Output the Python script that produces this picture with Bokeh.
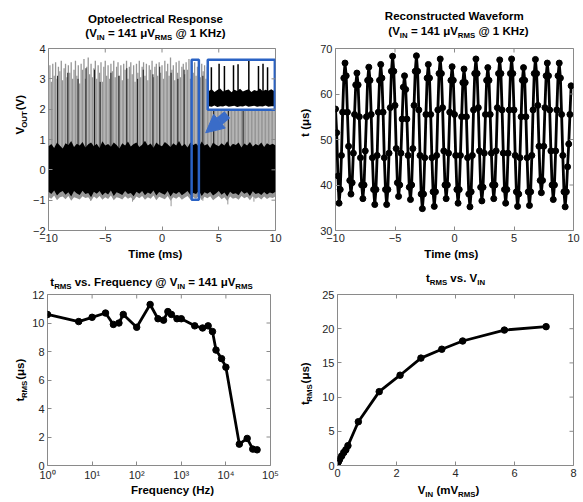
import math
from bokeh.plotting import figure
from bokeh.layouts import column, row
from bokeh.models import Range1d, FixedTicker, Arrow, NormalHead
from bokeh.core.properties import value
from bokeh.embed import file_html
from bokeh.resources import INLINE

# ------------------------------------------------------------------ data
# Reconstructed waveform (t in us), sampled every 0.1 ms from -10 ms
wave_vals = [
    56.7, 51.5, 42, 36,
    39, 46.5, 56, 63.5, 66.8, 64, 56, 48.5, 41, 38,
    40.5, 47, 55.5, 62, 64.6, 62, 55, 46, 40, 37,
    40, 47.5, 55, 63, 65.9, 63, 55.5, 46, 39, 35.7,
    39, 46.5, 56, 63, 66.5, 63.5, 56, 46, 39, 35.7,
    39, 47, 57, 65, 68.3, 65, 57.5, 48, 40.5, 37.5,
    40, 47, 54.5, 61.5, 64, 61, 54.5, 46.5, 39.5, 36.8,
    40, 48, 57.5, 65, 68.4, 65, 56.5, 46.5, 38, 34.8,
    38, 46, 55.5, 63.5, 66.5, 63.5, 55.5, 46, 38.5, 35.3,
    38.5, 46.5, 56.5, 64.5, 67.7, 64.5, 57, 47.5, 40, 37,
    40, 47, 56, 63, 66, 63, 55.5, 46.5, 39, 36,
    39, 46.5, 55, 62.5, 65.5, 62.5, 55, 46, 38, 35.2,
    38.5, 46.5, 56.5, 64.5, 67.7, 64.5, 57, 47.5, 39.5, 36.5,
    39.5, 47, 55.5, 63, 65.8, 63, 55.5, 47, 40, 37,
    40, 47.5, 57, 64.5, 67.5, 64.5, 56.5, 47, 39, 36,
    39, 47, 56.5, 64.5, 67.7, 64.5, 56.5, 46.5, 38.5, 35.3,
    38, 46, 55, 63, 65.8, 63, 55, 46, 38.5, 35.5,
    38.5, 46.5, 56.5, 64.5, 67.6, 64.5, 57.5, 48.5, 41, 38.3,
    41, 48.5, 57, 64, 66.8, 64, 56.5, 47.5, 40, 36.8,
    40, 47.5, 56.5, 64, 66.8, 63.5, 55.5, 46.5, 38.5, 35.2,
    38.5, 44, 49, 55.5, 61.8,
]
WAVE_T0, WAVE_DT = -10.0, 0.1
wave_t = [round(WAVE_T0 + WAVE_DT * i, 3) for i in range(len(wave_vals))]

# Optoelectrical response: spike tops (V), one every 0.125 ms from -10 ms
spike_top = [
    3.2, 3.45, 2.9, 3.5, 3.1, 3.55, 3.0, 3.4, 3.25, 3.6, 2.95, 3.35, 3.5, 3.05, 3.45, 3.2,
    3.55, 3.0, 3.3, 3.6, 3.1, 3.45, 2.85, 3.5, 3.3, 3.65, 3.0, 3.4, 3.7, 3.15, 3.5, 3.05,
    3.35, 3.6, 3.0, 3.45, 3.2, 3.55, 2.9, 3.4, 3.6, 3.1, 3.45, 3.0, 3.5, 3.25, 3.6, 3.05,
    3.4, 3.55, 3.1, 3.45, 2.95, 3.5, 3.3, 3.6, 3.0, 3.4, 3.55, 3.15, 3.45, 2.9, 3.5, 3.2,
    3.6, 3.05, 3.4, 3.55, 3.1, 3.5, 2.95, 3.45, 3.3, 3.6, 3.05, 3.4, 3.5, 3.1, 3.55, 3.2,
    3.45, 3.0, 3.6, 3.25, 3.5, 3.1, 3.7, 3.3, 3.45, 2.95, 3.55, 3.2, 3.6, 3.05, 3.4, 3.5,
    3.15, 3.55, 3.3, 3.65, 3.0, 3.45, 3.2, 3.55, 3.1, 3.4, 3.6, 3.05, 3.5, 3.25, 3.45, 3.0,
    3.4, 3.2, 3.5, 3.1, 3.45, 3.3, 3.0, 3.5, 3.2, 3.4, 3.1, 3.45, 3.3, 3.05, 3.5, 3.2,
    3.35, 3.1, 3.5, 3.25, 3.4, 3.0, 3.45, 3.2, 3.5, 3.1, 3.35, 3.45, 3.05, 3.3, 3.5, 3.2,
    3.4, 3.05, 3.5, 3.25, 3.35, 3.1, 3.45, 3.2, 3.5, 3.0, 3.4, 3.3, 3.45, 3.15, 3.35, 3.25, 3.3,
]
SPIKE_T0, SPIKE_DT = -10.0, 0.125
spike_t = [round(SPIKE_T0 + SPIKE_DT * i, 4) for i in range(len(spike_top))]

black_spike_t = [-9.2, -8.3, -7.4, -6.7, -5.95, -5.45, -4.5, -3.8, -3.1, -2.15,
                 -1.65, -0.8, -0.2, 0.8, 1.4, 1.95, 3.6, 4.55, 5.85, 7.15]
black_spike_top = [3.1, 3.2, 3.0, 3.35, 3.3, 2.9, 3.2, 3.1, 3.35, 3.0,
                   3.3, 3.15, 3.4, 3.2, 3.0, 3.3, 3.1, 3.0, 3.2, 3.1]

# noise band envelope, every 0.25 ms from -10 ms
band_upper = [
    0.78, 0.85, 0.72, 0.9, 0.8, 0.7, 0.88, 0.82, 0.95, 0.75,
    0.86, 0.8, 0.92, 0.74, 0.84, 0.9, 0.78, 0.86, 0.72, 0.94,
    0.8, 0.85, 0.76, 0.9, 0.82, 0.7, 0.88, 0.8, 0.93, 0.77,
    0.85, 0.9, 0.75, 0.83, 0.96, 0.8, 0.87, 0.73, 0.9, 0.82,
    0.78, 0.92, 0.84, 0.75, 0.88, 0.8, 0.95, 0.78, 0.86, 0.74,
    0.9, 0.82, 0.87, 0.76, 0.93, 0.8, 0.85, 0.72, 0.9, 0.83,
    0.78, 0.88, 0.8, 0.94, 0.76, 0.86, 0.82, 0.9, 0.74, 0.87,
    0.8, 0.92, 0.77, 0.85, 0.8, 0.9, 0.75, 0.88, 0.82, 0.86,
    0.8,
]
band_lower = [
    -0.72, -0.8, -0.68, -0.85, -0.75, -0.7, -0.82, -0.74, -0.88, -0.7,
    -0.78, -0.83, -0.69, -0.8, -0.76, -0.9, -0.72, -0.79, -0.7, -0.84,
    -0.75, -0.81, -0.68, -0.86, -0.74, -0.78, -0.83, -0.7, -0.8, -0.76,
    -0.87, -0.72, -0.79, -0.7, -0.84, -0.75, -0.8, -0.68, -0.85, -0.73,
    -0.78, -0.82, -0.7, -0.88, -0.75, -0.8, -0.72, -0.84, -0.77, -0.7,
    -0.83, -0.76, -0.8, -0.69, -0.86, -0.74, -0.79, -0.72, -0.85, -0.78,
    -0.7, -0.82, -0.75, -0.88, -0.72, -0.8, -0.77, -0.84, -0.7, -0.79,
    -0.74, -0.86, -0.71, -0.8, -0.76, -0.83, -0.73, -0.81, -0.75, -0.78,
    -0.72,
]
band_fringe = [
    -0.9, -0.95, -0.85, -1.0, -0.9, -0.88, -0.97, -0.86, -1.02, -0.9,
    -0.94, -0.98, -0.87, -0.93, -0.9, -1.03, -0.88, -0.95, -0.86, -0.99,
    -0.9, -0.96, -0.85, -1.0, -0.9, -0.93, -0.98, -0.87, -0.95, -0.9,
    -1.01, -0.88, -0.94, -0.86, -0.99, -0.9, -0.95, -0.85, -1.0, -0.89,
    -0.93, -0.97, -0.86, -1.02, -0.9, -0.95, -0.88, -0.99, -0.92, -0.86,
    -0.98, -0.9, -0.95, -0.85, -1.0, -0.89, -0.94, -0.87, -1.0, -0.93,
    -0.86, -0.97, -0.9, -1.03, -0.88, -0.95, -0.92, -0.99, -0.86, -0.94,
    -0.89, -1.0, -0.87, -0.95, -0.9, -0.98, -0.88, -0.96, -0.9, -0.93,
    -0.88,
]
BAND_T0, BAND_DT = -10.0, 0.25
band_t = [round(BAND_T0 + BAND_DT * i, 3) for i in range(len(band_upper))]

drop_t = [-6.3, -2.6, 0.8, 3.6, 5.8, 8.1]
drop_v = [-1.02, -1.05, -1.2, -1.02, -1.14, -1.05]

# zoomed inset content
inset_t = [4.125, 4.375, 4.625, 4.875, 5.125, 5.375, 5.625, 5.875, 6.125, 6.375,
           6.625, 6.875, 7.125, 7.375, 7.625, 7.875, 8.125, 8.375, 8.625, 8.875,
           9.125, 9.375, 9.625, 9.875]
inset_upper = [2.6, 2.66, 2.57, 2.63, 2.68, 2.58, 2.62, 2.65, 2.56, 2.64,
               2.6, 2.67, 2.58, 2.62, 2.66, 2.57, 2.63, 2.6, 2.68, 2.59,
               2.64, 2.61, 2.66, 2.6]
inset_lower = [2.1, 2.08, 2.12, 2.07, 2.1, 2.09, 2.12, 2.08, 2.1, 2.11,
               2.07, 2.1, 2.09, 2.12, 2.08, 2.1, 2.11, 2.08, 2.1, 2.09,
               2.12, 2.08, 2.1, 2.1]
inset_spike_t = [4.35, 5.03, 5.5, 6.3, 6.7, 7.65, 8.5, 8.9, 9.3]
inset_spike_top = [3.38, 3.5, 3.42, 3.45, 3.48, 3.6, 3.42, 3.5, 3.38]
zoom_box = [2.61, 3.25, -0.99, 3.63]      # left, right, bottom, top
inset_box = [4.03, 9.94, 1.98, 3.63]
arrow_pts = [5.75, 1.82, 3.85, 1.22]      # x_start, y_start, x_end, y_end

# t_RMS vs frequency
freq = [1, 5, 10, 20, 30, 40, 50, 100, 200, 300, 400, 500, 600, 800, 1000,
        2000, 3000, 4000, 5000, 6000, 8000, 10000, 20000, 30000, 40000, 50000]
trms_freq = [10.6, 10.1, 10.4, 10.7, 9.9, 10.0, 10.6, 9.7, 11.3, 10.3, 10.2, 10.8,
             10.6, 10.3, 10.3, 9.8, 9.65, 9.8, 9.4, 8.1, 7.5, 6.9, 1.5, 1.9, 1.15, 1.1]

# t_RMS vs V_IN
vin = [0.0, 0.035, 0.071, 0.141, 0.212, 0.283, 0.354, 0.707, 1.414, 2.121,
       2.828, 3.536, 4.243, 5.657, 7.071]
trms_vin = [0.3, 0.6, 0.9, 1.4, 1.9, 2.3, 2.9, 6.4, 10.8, 13.2, 15.7, 17.0,
            18.2, 19.8, 20.3]

tl_xticks = [-10, -5, 0, 5, 10]
tl_yticks = [-2, -1, 0, 1, 2, 3, 4]
tr_xticks = [-10, -5, 0, 5, 10]
tr_yticks = [30, 40, 50, 60, 70]
bl_xticks = [1, 10, 100, 1000, 10000, 100000]
bl_xlabels = ["10\u2070", "10\u00b9", "10\u00b2", "10\u00b3", "10\u2074", "10\u2075"]
bl_yticks = [0, 2, 4, 6, 8, 10, 12]
br_xticks = [0, 2, 4, 6, 8]
br_yticks = [0, 5, 10, 15, 20, 25]

# ------------------------------------------------------------------ style
FONT = "Liberation Sans"
AX = "#8a8a8a"
TICKTXT = "#262626"
BLUE = "#2a62c4"
ARROW_BLUE = "#3a6cc8"
SPIKE_GRAY = "#969696"

BOLD_W = {' ': 278, '(': 333, ')': 333, '.': 278, '=': 584, '@': 975,
          'A': 722, 'B': 722, 'C': 722, 'D': 722, 'E': 667, 'F': 611, 'H': 722,
          'I': 278, 'K': 722, 'M': 833, 'N': 722, 'O': 778, 'R': 722, 'S': 667,
          'T': 611, 'U': 722, 'V': 667, 'W': 944,
          'a': 556, 'b': 611, 'c': 556, 'd': 611, 'e': 556, 'f': 333, 'g': 611,
          'h': 611, 'i': 278, 'k': 556, 'l': 278, 'm': 889, 'n': 611, 'o': 611,
          'p': 611, 'q': 611, 'r': 389, 's': 556, 't': 333, 'u': 611, 'v': 556,
          'w': 778, 'x': 556, 'y': 556, 'z': 500, '\u03bc': 611}
for _d in "0123456789":
    BOLD_W[_d] = 556

META = {}
BASE_FIX = 0.35   # renderer places alphabetic text ~0.35 em lower than the anchor


def text_w(s, size):
    return sum(BOLD_W.get(c, 600) for c in s) * size / 1000.0


def text_fig(origin, size):
    """A bare figure whose frame fills its canvas; coordinates are page pixels."""
    w, h = size
    p = figure(width=w, height=h, x_range=Range1d(0, w), y_range=Range1d(0, h),
               toolbar_location=None, output_backend="svg", title=None,
               x_axis_location=None, y_axis_location=None,
               min_border_left=0, min_border_right=0, min_border_top=0,
               min_border_bottom=0)
    p.grid.visible = False
    p.outline_line_color = None
    p.background_fill_color = "white"
    p.border_fill_color = "white"
    META[p.id] = (origin, h)
    return p


def rich(p, pieces, X, Y, size=11.5, rotated=False):
    """pieces: (text, is_subscript) list; X, Y: page coords of baseline centre."""
    (ox, oy), h = META[p.id]
    sub_scale = 0.68
    widths = [text_w(t, size * sub_scale if s else size) for t, s in pieces]
    pos = -sum(widths) / 2.0
    for (t, s), w in zip(pieces, widths):
        fs = size * sub_scale if s else size
        drop = (size * 0.25 if s else 0.0) - BASE_FIX * fs
        lead = len(t) - len(t.lstrip(' '))
        shown = t.strip(' ')
        adv = pos + text_w(' ' * lead, fs)
        if rotated:
            px, py = X + drop, Y - adv
        else:
            px, py = X + adv, Y + drop
        if shown:
            p.text(x=[px - ox], y=[h - (py - oy)], text=[shown],
                   text_font=value(FONT), text_font_size=value("%.2fpx" % fs),
                   text_font_style=value("bold"), text_color="black",
                   text_align=value("left"), text_baseline=value("alphabetic"),
                   angle=math.pi / 2 if rotated else 0.0)
        pos += w


def make_fig(size, borders, xr, yr, xticks, yticks, logx=False):
    w, h = size
    bl, br, bt, bb = borders
    p = figure(width=w, height=h, x_range=Range1d(*xr), y_range=Range1d(*yr),
               x_axis_type="log" if logx else "linear",
               toolbar_location=None, output_backend="svg", title=None,
               min_border_left=bl, min_border_right=br,
               min_border_top=bt, min_border_bottom=bb)
    p.grid.visible = False
    p.outline_line_color = AX
    p.outline_line_width = 1
    p.background_fill_color = "white"
    p.border_fill_color = "white"
    p.xaxis.ticker = FixedTicker(ticks=xticks)
    p.yaxis.ticker = FixedTicker(ticks=yticks)
    for ax in list(p.xaxis) + list(p.yaxis):
        ax.axis_line_color = None
        ax.major_tick_in = 4
        ax.major_tick_out = 0
        ax.major_tick_line_color = AX
        ax.minor_tick_line_color = None
        ax.major_label_text_font = FONT
        ax.major_label_text_font_size = "11px"
        ax.major_label_text_color = TICKTXT
        ax.major_label_standoff = 3
    return p


def mirror_ticks(p, xticks, yticks, xr, yr):
    # inward tick marks on the top and right edges of the box (clipped halves)
    p.scatter(x=xticks, y=[yr[1]] * len(xticks), marker="dash", size=8,
              angle=math.pi / 2, line_color=AX, line_width=1)
    p.scatter(x=[xr[1]] * len(yticks), y=yticks, marker="dash", size=8,
              line_color=AX, line_width=1)


# ------------------------------------------------------------------ figures
# row A : titles of top panels
tA = text_fig((0, 0), (581, 42))
rich(tA, [("Optoelectrical Response", False)], 155, 23)
rich(tA, [("(V", False), ("IN", True), (" = 141 \u03bcV", False), ("RMS", True),
          (" @ 1 KHz)", False)], 155, 37)
rich(tA, [("Reconstructed Waveform", False)], 454, 20)
rich(tA, [("(V", False), ("IN", True), (" = 141 \u03bcV", False), ("RMS", True),
          (" @ 1 KHz)", False)], 458, 35)

# row B
yTL = text_fig((0, 42), (29, 206))
rich(yTL, [("V", False), ("OUT", True), (" (V)", False)], 24, 118, rotated=True)

p1 = make_fig((262, 206), (14, 16, 6, 18), (-10, 10), (-2, 4), tl_xticks, tl_yticks)
p1.segment(x0=spike_t, y0=[0] * len(spike_t), x1=spike_t, y1=spike_top,
           line_color=SPIKE_GRAY, line_width=1.3)
p1.segment(x0=black_spike_t, y0=[0] * len(black_spike_t), x1=black_spike_t,
           y1=black_spike_top, line_color="#1a1a1a", line_width=1)
p1.segment(x0=drop_t, y0=[0] * len(drop_t), x1=drop_t, y1=drop_v,
           line_color=SPIKE_GRAY, line_width=1)
p1.varea(x=band_t, y1=band_fringe, y2=[0] * len(band_t), fill_color=SPIKE_GRAY)
p1.varea(x=band_t, y1=band_lower, y2=band_upper, fill_color="black")
p1.quad(left=[zoom_box[0]], right=[zoom_box[1]], bottom=[zoom_box[2]], top=[zoom_box[3]],
        fill_color=None, line_color=BLUE, line_width=2.5)
p1.quad(left=[inset_box[0]], right=[inset_box[1]], bottom=[inset_box[2]], top=[inset_box[3]],
        fill_color="white", line_color=None)
p1.segment(x0=inset_spike_t, y0=[2.5] * len(inset_spike_t), x1=inset_spike_t,
           y1=inset_spike_top, line_color="black", line_width=1.5)
p1.varea(x=inset_t, y1=inset_lower, y2=inset_upper, fill_color="black")
p1.quad(left=[inset_box[0]], right=[inset_box[1]], bottom=[inset_box[2]], top=[inset_box[3]],
        fill_color=None, line_color=BLUE, line_width=2.5)
p1.add_layout(Arrow(x_start=arrow_pts[0], y_start=arrow_pts[1],
                    x_end=arrow_pts[2], y_end=arrow_pts[3],
                    line_color=ARROW_BLUE, line_width=9,
                    end=NormalHead(size=18, fill_color=ARROW_BLUE, line_color=ARROW_BLUE)))
mirror_ticks(p1, tl_xticks, tl_yticks, (-10, 10), (-2, 4))

yTR = text_fig((291, 42), (24, 206))
rich(yTR, [("t (\u03bcs)", False)], 309, 128, rotated=True)

p2 = make_fig((266, 206), (20, 8, 2, 18), (-10, 10), (30, 70), tr_xticks, tr_yticks)
p2.line(wave_t, wave_vals, line_color="black", line_width=2.8)
p2.scatter(wave_t, wave_vals, size=6, fill_color="black", line_color="black")
mirror_ticks(p2, tr_xticks, tr_yticks, (-10, 10), (30, 70))

# row C : x labels of top panels, titles of bottom panels
tC = text_fig((0, 248), (581, 42))
rich(tC, [("Time (ms)", False)], 155, 258)
rich(tC, [("Time (ms)", False)], 451, 258)
rich(tC, [("t", False), ("RMS", True), (" vs. Frequency @ V", False), ("IN", True),
          (" = 141 \u03bcV", False), ("RMS", True)], 151, 286)
rich(tC, [("t", False), ("RMS", True), (" vs. V", False), ("IN", True)], 455, 282)

# row D
yBL = text_fig((0, 290), (29, 193))
rich(yBL, [("t", False), ("RMS", True), (" (\u03bcs)", False)], 23.5, 388, rotated=True)

p3 = make_fig((262, 193), (18, 21, 4, 16), (1, 100000), (0, 12),
              bl_xticks, bl_yticks, logx=True)
p3.xaxis[0].major_label_overrides = {float(k): v for k, v in zip(bl_xticks, bl_xlabels)}
p3.line(freq, trms_freq, line_color="black", line_width=2.8)
p3.scatter(freq, trms_freq, size=6.5, fill_color="black", line_color="black")
mirror_ticks(p3, bl_xticks, bl_yticks, (1, 100000), (0, 12))

yBR = text_fig((291, 290), (24, 193))
rich(yBR, [("t", False), ("RMS", True), (" (\u03bcs)", False)], 309, 392, rotated=True)

p4 = make_fig((266, 193), (22, 8, 3, 16), (0, 8), (0, 25), br_xticks, br_yticks)
p4.line(vin, trms_vin, line_color="black", line_width=2.8)
p4.scatter(vin, trms_vin, size=6.5, fill_color="black", line_color="black")
mirror_ticks(p4, br_xticks, br_yticks, (0, 8), (0, 25))

# row E : x labels of bottom panels
tE = text_fig((0, 483), (581, 17))
rich(tE, [("Frequency (Hz)", False)], 172, 494)
rich(tE, [("V", False), ("IN", True), (" (mV", False), ("RMS", True), (")", False)],
     448, 494)

layout = column(tA, row(yTL, p1, yTR, p2), tC, row(yBL, p3, yBR, p4), tE)
open("out.html", "w").write(file_html(layout, INLINE))
